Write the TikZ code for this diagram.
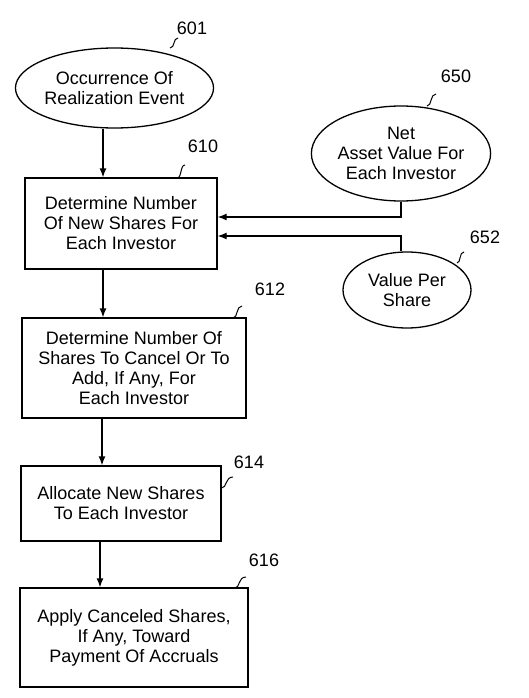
\documentclass[tikz,border=0pt]{standalone}
\usepackage{fontspec}
\setmainfont{Liberation Sans}
\usetikzlibrary{shapes.geometric,arrows.meta}

\tikzset{
  stepbox/.style={draw,rectangle,line width=1.3pt,inner sep=0pt,align=center},
  event/.style={draw,ellipse,line width=1.3pt,inner sep=0pt,align=center},
  reflab/.style={inner sep=0pt},
}

\begin{document}
\begin{tikzpicture}[x=1pt,y=-1pt,line width=1.3pt,>={Latex[length=9pt,width=7pt]},
    font=\fontsize{18}{20}\selectfont]
    \useasboundingbox (0,0) rectangle (529,698);

    % inputs
    \node[event,minimum width=185pt,minimum height=80pt] (e601) at (114.5,88)
      {Occurrence Of\\Realization Event};
    \node[event,minimum width=172pt,minimum height=95pt] (e650) at (401,153.5)
      {Net\\Asset Value For\\Each Investor};
    \node[event,minimum width=128pt,minimum height=76pt] (e652) at (407,290)
      {Value Per\\Share};

    % steps
    \node[stepbox,minimum width=192pt,minimum height=91pt] (b610) at (121,223.5)
      {Determine Number\\Of New Shares For\\Each Investor};
    \node[stepbox,minimum width=224pt,minimum height=100pt] (b612) at (134,368)
      {Determine Number Of\\Shares To Cancel Or To\\Add, If Any, For\\Each Investor};
    \node[stepbox,minimum width=200pt,minimum height=75pt] (b614) at (121,503.5)
      {Allocate New Shares\\To Each Investor};
    \node[stepbox,minimum width=228pt,minimum height=99pt] (b616) at (134,637.5)
      {Apply Canceled Shares,\\If Any, Toward\\Payment Of Accruals};

    % reference numbers
    \node[reflab] (l601) at (192,28) {601};
    \node[reflab] (l650) at (456,76) {650};
    \node[reflab] (l610) at (203,146) {610};
    \node[reflab] (l652) at (485,237) {652};
    \node[reflab] (l612) at (270,289) {612};
    \node[reflab] (l614) at (249,462) {614};
    \node[reflab] (l616) at (264,560) {616};

    % flow
    \coordinate (x1) at (103,0);
    \coordinate (x2) at (102,0);
    \coordinate (x3) at (100,0);
    \draw[->] (x1 |- e601.south) -- (x1 |- b610.north);
    \draw[->] (x1 |- b610.south) -- (x1 |- b612.north);
    \draw[->] (x2 |- b612.south) -- (x2 |- b614.north);
    \draw[->] (x3 |- b614.south) -- (x3 |- b616.north);
    \draw[->] (e650.south) |- ([yshift=6.5pt]b610.east);
    \draw[->] (e652.north -| e650.south) |- ([yshift=-12.5pt]b610.east);

    % leaders
    \draw[line width=1pt] (170,48) .. controls (175,48) and (173,38) .. (178,38);
    \draw[line width=1pt] (427,106) .. controls (432,106) and (430,94) .. (436,94);
    \draw[line width=1pt] (177,178) .. controls (182,178) and (180,165) .. (185,165);
    \draw[line width=1pt] (457,263) .. controls (461,263) and (459,252) .. (464,252);
    \draw[line width=1pt] (233,318) .. controls (238,318) and (236,306) .. (242,306);
    \draw[line width=1pt] (b614.east |- 0,488) .. controls (227,488) and (225,477) .. (233,477);
    \draw[line width=1pt] (235,588) .. controls (240,588) and (238,577) .. (246,577);
  \end{tikzpicture}
\end{document}
